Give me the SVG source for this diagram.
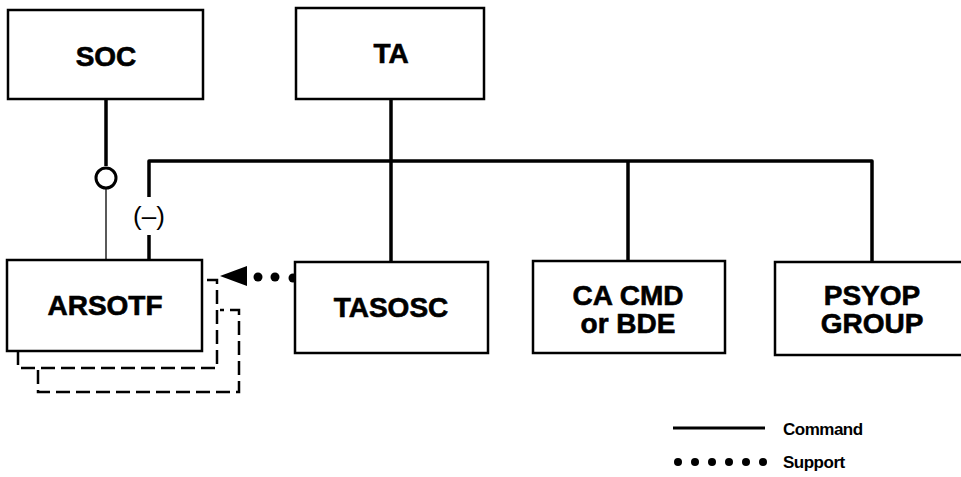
<svg xmlns="http://www.w3.org/2000/svg" width="961" height="477" viewBox="0 0 961 477">
<style>
.box{fill:#fff;stroke:#000;stroke-width:2.5}
.lbl{font-family:"Liberation Sans",Arial,sans-serif;font-weight:bold;font-size:28px;text-anchor:middle;fill:#000;stroke:#000;stroke-width:0.6}
.cmd{fill:none;stroke:#000;stroke-width:3.5;stroke-linejoin:round}
.thin{fill:none;stroke:#000;stroke-width:1.3}
.dash{fill:none;stroke:#000;stroke-width:2.5;stroke-dasharray:14 6}
.dot{fill:#000}
.leg{font-family:"Liberation Sans",Arial,sans-serif;font-weight:bold;font-size:17px;fill:#000;letter-spacing:-0.5px}
</style>
<rect width="961" height="477" fill="#fff"/>
<g id="connectors">
  <path class="cmd" d="M391,99 V262"/>
  <path class="cmd" d="M149,197 V161 H872 V262"/>
  <path class="cmd" d="M628,161 V261"/>
  <path class="cmd" d="M149,235 V260"/>
  <path class="cmd" d="M106,99 V166"/>
  <circle cx="106" cy="178" r="10" fill="#fff" stroke="#000" stroke-width="3"/>
  <path class="thin" d="M106,189 V260"/>
  <text x="149" y="225" font-family="Liberation Sans, Arial, sans-serif" font-size="26" text-anchor="middle">(–)</text>
  <path class="dash" d="M18,351 V368 H217 V280 H202"/>
  <path class="dash" d="M38,370 V392 H239 V310 H220"/>
  <polygon points="220,276 247,266 247,286" fill="#000"/>
  <circle class="dot" cx="258" cy="277" r="4.5"/>
  <circle class="dot" cx="275" cy="277" r="4.5"/>
  <circle class="dot" cx="293" cy="278" r="4.5"/>
</g>
<g id="soc"><rect class="box" x="8" y="10" width="195" height="89"/><text class="lbl" x="106" y="66">SOC</text></g>
<g id="ta"><rect class="box" x="296" y="8" width="188" height="91"/><text class="lbl" x="391" y="63">TA</text></g>
<g id="arsotf"><rect class="box" x="7" y="260" width="195" height="91"/><text class="lbl" x="105" y="315">ARSOTF</text></g>
<g id="tasosc"><rect class="box" x="295" y="262" width="193" height="91"/><text class="lbl" x="391" y="317">TASOSC</text></g>
<g id="cacmd"><rect class="box" x="533" y="261" width="192" height="92"/><text class="lbl" x="628" y="305">CA CMD</text><text class="lbl" x="628" y="333">or BDE</text></g>
<g id="psyop"><rect class="box" x="775" y="262" width="190" height="93"/><text class="lbl" x="872" y="305">PSYOP</text><text class="lbl" x="872" y="333">GROUP</text></g>
<g id="legend">
  <path d="M673,428 H765" stroke="#000" stroke-width="3"/>
  <text class="leg" x="783" y="435">Command</text>
  <circle class="dot" cx="678" cy="462" r="4"/>
  <circle class="dot" cx="695" cy="462" r="4"/>
  <circle class="dot" cx="712" cy="462" r="4"/>
  <circle class="dot" cx="729" cy="462" r="4"/>
  <circle class="dot" cx="746" cy="462" r="4"/>
  <circle class="dot" cx="763" cy="462" r="4"/>
  <text class="leg" x="783" y="468">Support</text>
</g>
</svg>
